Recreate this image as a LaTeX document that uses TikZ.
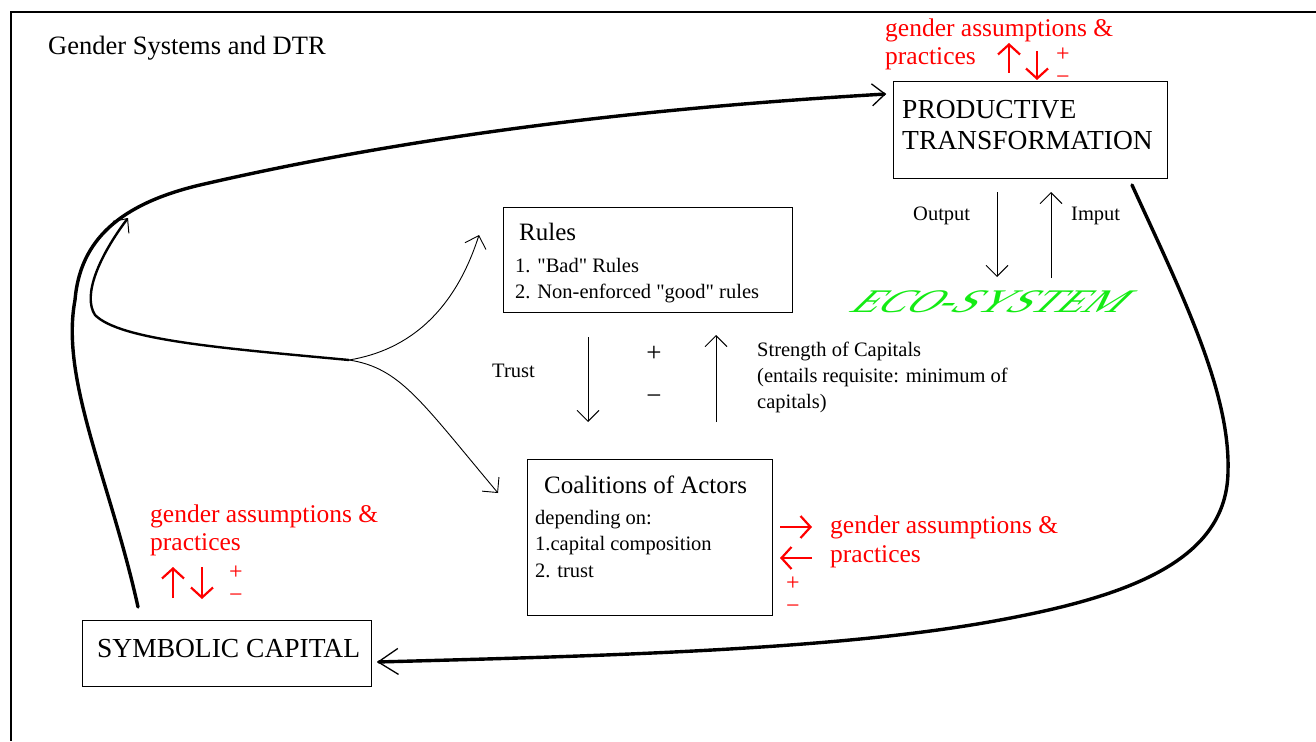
\documentclass[tikz,border=0pt]{standalone}
\usepackage{fontspec}
\setmainfont{Liberation Serif}[Ligatures=TeXOff]
\usetikzlibrary{arrows.meta}
\definecolor{gred}{RGB}{255,0,0}
\definecolor{eco}{RGB}{20,235,20}
\tikzset{
  box/.style={draw, line width=1.1pt, inner sep=0pt, anchor=north west},
  txt/.style={anchor=base west, inner sep=0pt},
  big/.style={font=\fontsize{27.5}{31}\selectfont},
  mid/.style={font=\fontsize{25}{29}\selectfont},
  sml/.style={font=\fontsize{20.5}{24}\selectfont},
  redtxt/.style={txt, text=gred, font=\fontsize{25.5}{29}\selectfont},
  sign/.style={anchor=center, inner sep=0pt, font=\fontsize{27}{28}\selectfont},
  signpair/.style={anchor=center, inner sep=0pt, align=center, text=gred, font=\fontsize{24}{22.5}\selectfont},
  thinarr/.style={line width=0.9pt, -{Straight Barb[length=11pt,width=22pt,line width=0.9pt]}},
  redarr/.style={gred, line width=2.2pt, -{Straight Barb[length=10pt,width=22pt,line width=2.2pt]}},
  heavy/.style={line width=3.4pt, line cap=round},
}
\begin{document}
\begin{tikzpicture}[x=1pt,y=-1pt]
\useasboundingbox (0,0) rectangle (1316,741);
% frame
\draw[line width=2.5pt] (10,12) -- (1316,12);
\draw[line width=1.5pt] (11,12) -- (11,741);
% title
\node[txt, font=\fontsize{26.5}{30}\selectfont] (title) at (48,55) {Gender Systems and DTR};

% boxes
\node[box, minimum width=274pt, minimum height=97pt] (pt) at (893,81) {};
\node[txt, big] (ptA) at (902,118) {PRODUCTIVE};
\node[txt, big] (ptB) at (902,149) {TRANSFORMATION};

\node[box, minimum width=289pt, minimum height=105pt] (rules) at (503,207) {};
\node[txt, mid] (rulesT) at (519,240) {Rules};
\node[txt, sml] (rules1) at (515,272) {1. "Bad" Rules};
\node[txt, sml] (rules2) at (515,298) {2. Non-enforced "good" rules};

\node[box, minimum width=245pt, minimum height=156pt] (coal) at (527,459) {};
\node[txt, mid] (coalT) at (544,493) {Coalitions of Actors};
\node[txt, sml] (coal1) at (535,524) {depending on:};
\node[txt, sml] (coal2) at (535,550) {1.capital composition};
\node[txt, sml] (coal3) at (535,577) {2. trust};

\node[box, minimum width=289pt, minimum height=66pt] (sc) at (82,620) {};
\node[txt, big] (scT) at (97,657) {SYMBOLIC CAPITAL};

% eco-system
\node[anchor=base, inner sep=0pt, text=eco, font=\fontsize{33}{36}\selectfont, xscale=1.3, xslant=0.8, transform shape] (eco) at (982,312) {ECO-SYSTEM};

% small labels
\node[txt, sml] (output) at (913,220) {Output};
\node[txt, sml] (imput) at (1071,220) {Imput};
\node[txt, sml] (trust) at (492,377) {Trust};
\node[txt, sml] (str1) at (757,356) {Strength of Capitals};
\node[txt, sml] (str2) at (757,382) {(entails requisite: minimum of};
\node[txt, sml] (str3) at (757,408) {capitals)};
\node[sign] (plusM) at (654,354) {+};
\node[sign] (minusM) at (654,400) {−};

% vertical black arrows
\coordinate (outTop) at (997,192);
\coordinate (outBot) at (997,277);
\coordinate (inBot) at (1051,278);
\coordinate (inTop) at (1051,192);
\draw[thinarr] (outTop) -- (outBot);
\draw[thinarr] (inBot) -- (inTop);
\coordinate (trTop) at (588,337);
\coordinate (trBot) at (588,422);
\coordinate (caBot) at (716,422);
\coordinate (caTop) at (716,335);
\draw[thinarr] (trTop) -- (trBot);
\draw[thinarr] (caBot) -- (caTop);

% red annotations: top
\node[redtxt] (gTop1) at (885,37) {gender assumptions \&};
\node[redtxt] (gTop2) at (885,65) {practices};
\coordinate (rtu1) at (1009,73);
\coordinate (rtu2) at (1009,43);
\coordinate (rtd1) at (1037,51);
\coordinate (rtd2) at (1037,80);
\draw[redarr] (rtu1) -- (rtu2);
\draw[redarr] (rtd1) -- (rtd2);
\node[signpair] (rtpm) at (1063,66) {+\\−};

% red annotations: right of coalitions
\node[redtxt] (gR1) at (830,533) {gender assumptions \&};
\node[redtxt] (gR2) at (830,562) {practices};
\coordinate (rr1) at (780,527);
\coordinate (rr2) at (812,527);
\coordinate (rl1) at (812,558);
\coordinate (rl2) at (780,558);
\draw[redarr] (rr1) -- (rr2);
\draw[redarr] (rl1) -- (rl2);
\node[signpair] (rrpm) at (793,595) {+\\−};

% red annotations: bottom left
\node[redtxt] (gL1) at (150,522) {gender assumptions \&};
\node[redtxt] (gL2) at (150,550) {practices};
\coordinate (rlu1) at (173,598);
\coordinate (rlu2) at (173,567);
\coordinate (rld1) at (202,567);
\coordinate (rld2) at (202,599);
\draw[redarr] (rlu1) -- (rlu2);
\draw[redarr] (rld1) -- (rld2);
\node[signpair] (rlpm) at (236,584) {+\\−};

% heavy loop: symbolic capital -> productive transformation
\coordinate (scOut) at (138,607);
\coordinate (ptIn) at (886,94);
\draw[heavy, -{Straight Barb[length=13pt,width=22pt,line width=1.3pt]}]
  (scOut) .. controls (110,480) and (60,380) .. (75,300)
  .. controls (80,240) and (120,204) .. (200,185)
  .. controls (450,127) and (700,105) .. (ptIn);

% heavy loop: productive transformation -> symbolic capital
\coordinate (ptOut) at (1132,185);
\coordinate (scIn) at (377,662);
\draw[heavy, -{Straight Barb[length=20pt,width=26pt,line width=1.3pt]}]
  (ptOut) .. controls (1180,290) and (1230,390) .. (1228,470)
  .. controls (1228,560) and (1130,596) .. (1000,620)
  .. controls (840,650) and (600,656) .. (scIn);

% split point and branches
\coordinate (split) at (349,360);
\coordinate (loopEnd) at (128,218);
\coordinate (rulesIn) at (479,235);
\coordinate (coalIn) at (498,493);
\draw[line width=2.4pt, -{Straight Barb[length=11pt,width=20pt,line width=1pt]}]
  (split) .. controls (220,348) and (120,340) .. (95,315)
  .. controls (82,295) and (100,255) .. (loopEnd);
\draw[thinarr] (split) .. controls (410,350) and (455,310) .. (rulesIn);
\draw[thinarr] (split) .. controls (400,368) and (420,400) .. (coalIn);
\end{tikzpicture}
\end{document}
